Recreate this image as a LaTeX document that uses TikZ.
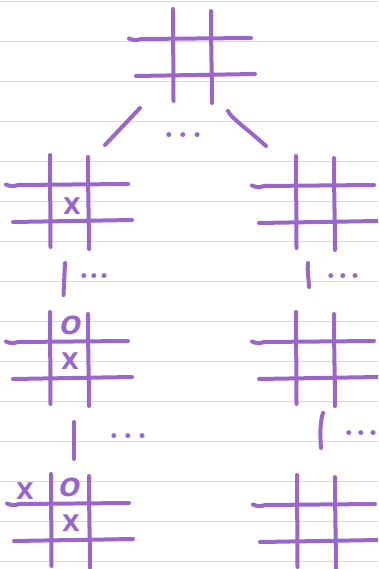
\documentclass[tikz,border=0pt]{standalone}
\usepackage{fontspec}
\newfontfamily\xofont{DejaVu Sans}
\usepackage{tikz}
\usetikzlibrary{calc}
\definecolor{pen}{RGB}{154,102,204}
\definecolor{paperline}{RGB}{190,224,250}

\begin{document}
\begin{tikzpicture}[
  x=1pt, y=-1pt,
  stroke/.style={draw=pen, line width=4pt, line cap=round, line join=round},
  paper/.style={fill=paperline},
  xo/.style={text=pen, inner sep=0pt, font=\xofont\bfseries\fontsize{23}{23}\selectfont},
  dots/.style={text=pen, inner sep=0pt, font=\bfseries\fontsize{34}{34}\selectfont},
  board/.pic={
    \draw[stroke] (0,-30) -- (0.5,62);
    \draw[stroke] (38,-28) .. controls (38,10) and (39,40) .. (39,64);
    \draw[stroke] (-44,-0.5) .. controls (-40,1.5) and (-36,1.5) .. (-32,0) -- (78,-1);
    \draw[stroke] (-37,37) -- (82,35);
  },
]
  % lined paper
  \useasboundingbox[fill=white] (0,0) rectangle (378,569);
  \foreach \y in {1,41,...,561}
    \fill[paper] (0,\y) rectangle (378,\y+1.4);

  \begin{scope}
  \clip (0,0) rectangle (378,569);

  \coordinate (top) at (173,39);
  \coordinate (l1) at (50,185);
  \coordinate (r1) at (296,186);
  \coordinate (l2) at (50,342);
  \coordinate (r2) at (296,342);
  \coordinate (l3) at (51,504);
  \coordinate (r3) at (297,505);

  \pic at (top) {board};
  \pic at (l1) {board};
  \pic at (r1) {board};
  \pic at (l2) {board};
  \pic at (r2) {board};
  \pic at (l3) {board};
  \pic at (r3) {board};

  % moves
  \node[xo] (x1) at (72,206) {X};
  \node[xo, font=\xofont\bfseries\fontsize{25}{25}\selectfont, xslant=.2, transform shape] (o2) at (71,325) {O};
  \node[xo] (x2) at (70,361) {X};
  \node[xo] (x3a) at (25,491) {X};
  \node[xo, font=\xofont\bfseries\fontsize{25}{25}\selectfont, xslant=.2, transform shape] (o3) at (70,487) {O};
  \node[xo] (x3) at (71,523) {X};

  % branches
  \draw[stroke] ($(top)+(-33,69)$) -- ($(l1)+(55,-40)$);
  \draw[stroke] ($(top)+(55,72)$) .. controls ($(top)+(58,79)$) and ($(top)+(72,88)$) .. ($(r1)+(-30,-40)$);
  \node[dots] (dtop) at (183,135) {.\kern3.5pt.\kern3.5pt.};

  \draw[stroke] ($(l1)+(15,78)$) -- ($(l2)+(13.5,-47)$);
  \node[dots] (dl1) at (94,276) {.\kern-0.5pt.\kern-0.5pt.};
  \draw[stroke] ($(r1)+(12,77)$) .. controls ($(r1)+(11,86)$) and ($(r2)+(13,-62)$) .. ($(r2)+(13,-55)$);
  \node[dots] (dr1) at (343,276) {.\kern1.5pt.\kern1.5pt.};

  \draw[stroke] ($(l2)+(24,80)$) -- ($(l3)+(23,-45)$);
  \node[dots] (dl2) at (128,436) {.\kern3.5pt.\kern3.5pt.};
  \draw[stroke] ($(r2)+(27,71)$) .. controls ($(r2)+(24,80)$) and ($(r3)+(23,-70)$) .. ($(r3)+(24,-57)$);
  \node[dots] (dr2) at (361,433) {.\kern1.5pt.\kern1.5pt.};
  \end{scope}
\end{tikzpicture}
\end{document}
